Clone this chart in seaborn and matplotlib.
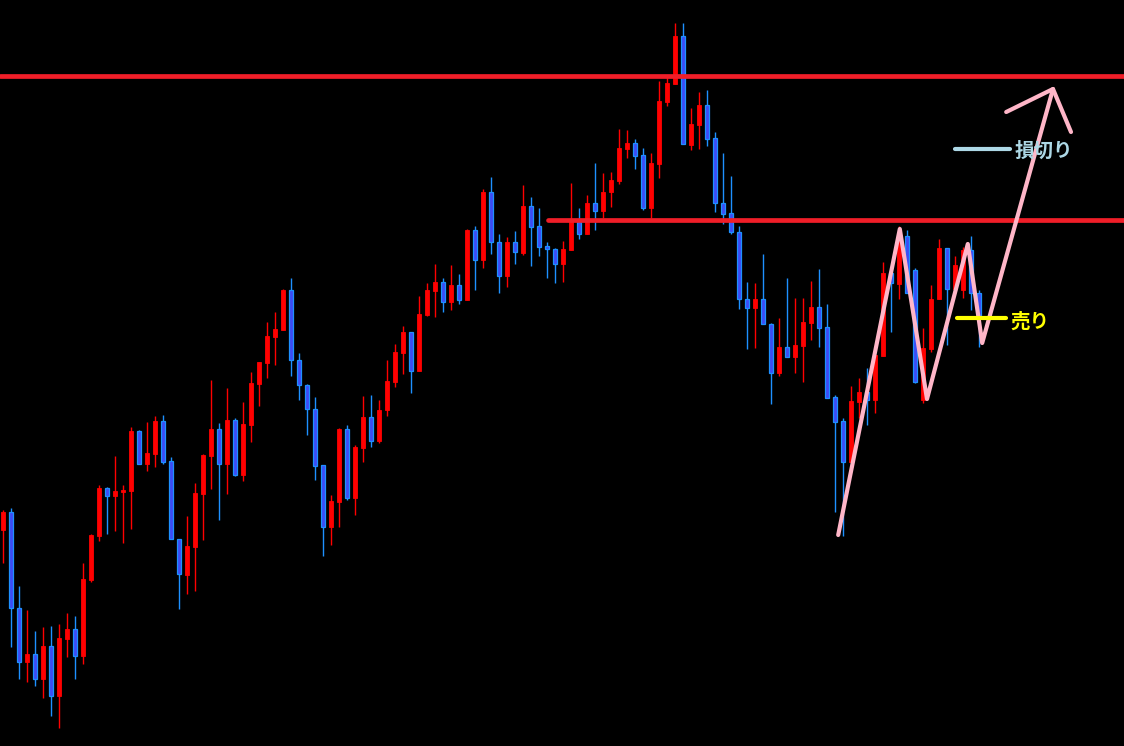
import matplotlib
matplotlib.use("Agg")

import matplotlib.pyplot as plt  # noqa: E402
import numpy as np               # noqa: E402
import pandas as pd              # noqa: E402
import seaborn as sns            # noqa: E402

sns.set_style("dark", {"axes.facecolor": "black", "figure.facecolor": "black"})
plt.rcParams["font.family"] = ["Noto Sans CJK JP", "DejaVu Sans"]

# --------------------------------------------------------------------------- #
# Price data
# --------------------------------------------------------------------------- #
OPEN = [216, 234, 138, 84, 92, 67, 100, 50, 107, 117, 90, 166, 210, 258, 250,
        254, 255, 315, 282, 292, 325, 285, 207, 171, 199, 252, 290, 317, 282,
        326, 271, 321, 362, 383, 409, 416, 456, 386, 361, 337, 281, 219, 244,
        317, 248, 298, 329, 305, 336, 364, 393, 414, 375, 431, 455, 464, 444,
        461, 446, 516, 486, 554, 504, 470, 504, 493, 540, 520, 500, 497, 482,
        496, 524, 512, 543, 535, 554, 565, 597, 603, 591, 538, 582, 644, 662,
        710, 601, 621, 641, 608, 543, 533, 514, 447, 438, 447, 422, 373, 399,
        389, 400, 423, 439, 419, 349, 325, 284, 344, 354, 346, 390, 473, 462,
        510, 476, 346, 397, 447, 498, 457, 456, 496, 453]
HIGH = [236, 238, 160, 136, 115, 119, 120, 122, 133, 130, 183, 212, 261, 259,
        290, 261, 319, 316, 324, 330, 331, 289, 207, 230, 263, 292, 366, 323,
        358, 328, 344, 374, 384, 424, 434, 457, 468, 393, 362, 349, 281, 251,
        318, 321, 301, 350, 351, 346, 386, 402, 420, 414, 450, 463, 482, 468,
        481, 472, 517, 520, 557, 569, 512, 509, 515, 561, 549, 538, 504, 498,
        505, 563, 538, 551, 583, 573, 574, 617, 616, 607, 598, 593, 665, 669,
        723, 723, 638, 654, 656, 614, 593, 570, 520, 464, 463, 492, 423, 428,
        468, 448, 448, 465, 477, 442, 351, 328, 360, 368, 378, 391, 484, 476,
        520, 516, 478, 418, 461, 507, 498, 490, 499, 510, 456]
LOW = [183, 99, 67, 64, 60, 48, 30, 18, 89, 67, 82, 164, 205, 212, 215, 203,
       217, 282, 275, 279, 282, 207, 137, 152, 155, 206, 257, 226, 252, 270,
       265, 304, 340, 368, 381, 416, 370, 346, 311, 266, 190, 201, 219, 246,
       231, 284, 299, 303, 330, 359, 372, 353, 375, 430, 429, 434, 436, 442,
       446, 456, 478, 492, 453, 459, 482, 491, 480, 490, 468, 463, 464, 496,
       507, 512, 516, 528, 539, 562, 588, 577, 536, 528, 568, 640, 662, 602,
       596, 597, 600, 534, 522, 512, 437, 397, 398, 422, 342, 370, 389, 373,
       364, 406, 399, 348, 234, 210, 284, 328, 321, 333, 390, 414, 447, 453,
       363, 343, 394, 447, 401, 453, 448, 436, 399]
CLOSE = [234, 138, 84, 92, 67, 100, 50, 108, 117, 90, 167, 211, 258, 250, 255,
         256, 315, 282, 293, 325, 284, 207, 172, 200, 253, 291, 317, 282, 326,
         271, 322, 363, 384, 410, 417, 456, 386, 361, 337, 280, 219, 245, 317,
         248, 299, 329, 305, 336, 365, 394, 414, 375, 432, 456, 464, 444, 461,
         446, 516, 486, 554, 504, 470, 504, 494, 540, 519, 499, 497, 482, 497,
         526, 512, 543, 535, 554, 566, 598, 603, 590, 538, 583, 645, 663, 710,
         602, 622, 641, 607, 543, 532, 514, 447, 438, 447, 422, 373, 399, 389,
         401, 424, 439, 418, 348, 324, 284, 345, 354, 346, 391, 473, 463, 509,
         453, 364, 398, 447, 498, 457, 481, 496, 453, 429]

# horizontal levels and the drawn scenario
RESIST_TOP = 670
RESIST_MID = 526
RESIST_MID_START = 68.1
ZIGZAG_X = [104.4, 112.1, 115.5, 120.6, 122.4, 131.25]
ZIGZAG_Y = [211, 517, 347, 502, 403, 657]
ARROW_X = [125.4, 131.25, 133.5]
ARROW_Y = [634, 657, 614]
STOP_LEVEL = 597
SELL_LEVEL = 428

df = pd.DataFrame({"open": OPEN, "high": HIGH, "low": LOW, "close": CLOSE})
df["idx"] = np.arange(len(df))
df["up"] = df["close"] >= df["open"]

RED = "#FF0000"
BLUE_FILL = "#3D4BF5"
BLUE_EDGE = "#1E90FF"

fig = plt.figure(figsize=(11.24, 7.46), dpi=100)
ax = fig.add_axes([0, 0, 1, 1])
ax.set_facecolor("black")

# wicks
for up, color in [(True, RED), (False, BLUE_EDGE)]:
    d = df[df.up == up]
    ax.vlines(d.idx, d.low, d.high, color=color, lw=1.0, zorder=2)

# bodies
up_df = df[df.up]
dn_df = df[~df.up]
ax.bar(up_df.idx, (up_df.close - up_df.open).clip(lower=1), bottom=up_df.open,
       width=0.62, color=RED, edgecolor=RED, lw=0.6, zorder=3)
ax.bar(dn_df.idx, (dn_df.open - dn_df.close).clip(lower=1), bottom=dn_df.close,
       width=0.62, color=BLUE_FILL, edgecolor=BLUE_EDGE, lw=0.9, zorder=3)

# levels
ax.axhline(RESIST_TOP, color="#F01E28", lw=3.4, zorder=4)
ax.plot([RESIST_MID_START, 141], [RESIST_MID, RESIST_MID],
        color="#F01E28", lw=3.4, zorder=4, solid_capstyle="round")

# scenario
zz = pd.DataFrame({"x": ZIGZAG_X, "y": ZIGZAG_Y})
sns.lineplot(data=zz, x="x", y="y", sort=False, color="#FFB6C8", lw=3.0,
             ax=ax, zorder=5)
ax.plot(ARROW_X, ARROW_Y, color="#FFB6C8", lw=3.0, zorder=5)

ax.plot([119.0, 125.9], [STOP_LEVEL, STOP_LEVEL], color="#ADD8E6", lw=3.0,
        solid_capstyle="round", zorder=6)
ax.text(126.5, STOP_LEVEL - 2, "損切り", color="#ADD8E6", fontsize=14,
        fontweight="bold", va="center", ha="left", zorder=6)
ax.plot([119.25, 125.4], [SELL_LEVEL, SELL_LEVEL], color="#FFFF00", lw=3.0,
        solid_capstyle="round", zorder=6)
ax.text(125.9, SELL_LEVEL - 4, "売り", color="#FFFF00", fontsize=14,
        fontweight="bold", va="center", ha="left", zorder=6)

ax.set_xlim(-0.375, 140.125)
ax.set_ylim(0, 746)
ax.axis("off")

fig.savefig("out.png", dpi=100, facecolor="black")
